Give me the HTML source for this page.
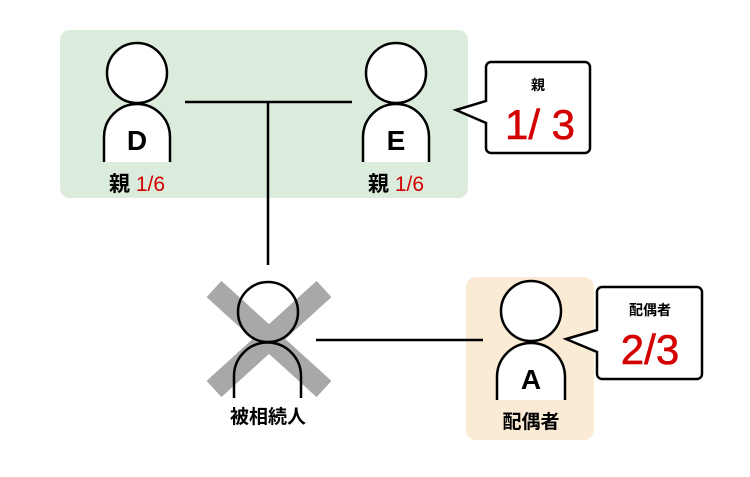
<!DOCTYPE html>
<html><head><meta charset="utf-8"><style>
html,body{margin:0;padding:0;background:#fff;}
svg{display:block;}
text{font-family:"Liberation Sans","Noto Sans CJK JP",sans-serif;}
</style></head><body>
<svg width="750" height="477" viewBox="0 0 750 477" xmlns="http://www.w3.org/2000/svg">
<rect x="60" y="30" width="408" height="168" rx="10" fill="#dcecdc"/>
<rect x="466" y="277" width="128" height="163" rx="10" fill="#fbebd4"/>
<g stroke="#a8a8a8" stroke-width="22">
<line x1="214" y1="289" x2="324" y2="389"/>
<line x1="324" y1="289" x2="214" y2="389"/>
</g>
<g stroke="#000" stroke-width="2.5" fill="#fff">
<line x1="185" y1="102" x2="352" y2="102"/>
<line x1="268" y1="102" x2="268" y2="265"/>
<line x1="316" y1="340" x2="483" y2="340"/>
<path d="M104 162 V137 A33 33 0 0 1 170 137 V162"/>
<circle cx="137" cy="73" r="30"/>
<path d="M363 162 V137 A33 33 0 0 1 429 137 V162"/>
<circle cx="396" cy="73" r="30"/>
<path d="M234 398 V376 A33.5 33.5 0 0 1 301 376 V398" fill="none"/>
<circle cx="268" cy="312" r="30" fill="none"/>
<path d="M497 400 V377 A34 34 0 0 1 565 377 V400"/>
<circle cx="531" cy="311" r="30"/>
</g>
<g fill="#000" font-weight="bold" text-anchor="middle">
<text x="137" y="150" font-size="28">D</text>
<text x="396" y="150" font-size="28">E</text>
<text x="531" y="389" font-size="28">A</text>
<text x="268" y="423" font-size="19">被相続人</text>
<text x="531" y="428" font-size="19">配偶者</text>
<text x="137" y="191" font-size="21">親 <tspan fill="#d40000" font-weight="normal">1/6</tspan></text>
<text x="396" y="191" font-size="21">親 <tspan fill="#d40000" font-weight="normal">1/6</tspan></text>
</g>
<path d="M491 62 H585 A5 5 0 0 1 590 67 V148 A5 5 0 0 1 585 153 H491 A5 5 0 0 1 486 148 V123 L456 110 L486 101 V67 A5 5 0 0 1 491 62 Z" fill="#fff" stroke="#000" stroke-width="2.5"/>
<path d="M602 287 H697 A5 5 0 0 1 702 292 V374 A5 5 0 0 1 697 379 H602 A5 5 0 0 1 597 374 V352 L566 339 L597 330 V292 A5 5 0 0 1 602 287 Z" fill="#fff" stroke="#000" stroke-width="2.5"/>
<g text-anchor="middle">
<text x="538" y="90" font-size="14" font-weight="bold">親</text>
<text x="540" y="139" font-size="42" fill="#d40000" stroke="#d40000" stroke-width="0.6">1/ 3</text>
<text x="650" y="315" font-size="14" font-weight="bold">配偶者</text>
<text x="650" y="364" font-size="42" fill="#d40000" stroke="#d40000" stroke-width="0.6">2/3</text>
</g>
</svg>
</body></html>
